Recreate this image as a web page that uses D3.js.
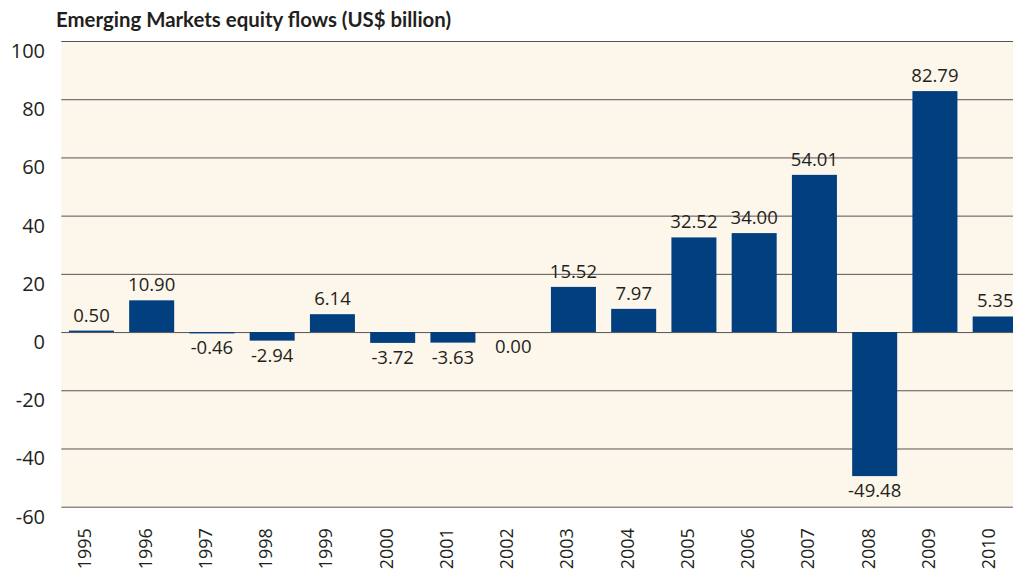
<!DOCTYPE html>
<html><head><meta charset="utf-8">
<script src="https://cdn.jsdelivr.net/npm/d3@7/dist/d3.min.js"></script>
<style>html,body{margin:0;padding:0;background:#fff;}svg{display:block;}</style>
</head><body>
<svg id="chart" width="1013" height="574"></svg>
<script>
const title = "Emerging Markets equity flows (US$ billion)";
const years = ["1995","1996","1997","1998","1999","2000","2001","2002","2003","2004","2005","2006","2007","2008","2009","2010"];
const flows = [0.50,10.90,-0.46,-2.94,6.14,-3.72,-3.63,0.00,15.52,7.97,32.52,34.00,54.01,-49.48,82.79,5.35];
const yTicks = [100,80,60,40,20,0,-20,-40,-60];

const svg = d3.select("#chart");
const x = d3.scaleBand().domain(years).range([61.3, 1025.3]).paddingInner(0.253).paddingOuter(0.1265);
const y = d3.scaleLinear().domain([-60,100]).range([506.7, 41]);
const font = "'Open Sans', sans-serif";
const ink = "#231f20";

svg.append("rect").attr("x", 61.3).attr("y", y(100)).attr("width", 1013-61.3).attr("height", y(-60)-y(100)).attr("fill", "#fdf6eb");

const yAxis = d3.axisLeft(y).tickValues(yTicks).tickSize(-(1030-61.3)).tickFormat(d => String(d));
const ga = svg.append("g").attr("transform", "translate(61.3,0)").call(yAxis);
ga.select(".domain").remove();
ga.selectAll(".tick line").attr("stroke", "#555").attr("stroke-width", 1);
ga.selectAll(".tick text").attr("x", -16.3).attr("dy", "0").attr("y", 16.5)
  .attr("font-family", font).attr("font-size", 20).attr("fill", ink);

svg.append("g").selectAll("rect").data(years).join("rect")
  .attr("x", d => x(d))
  .attr("width", x.bandwidth())
  .attr("y", (d,i) => y(Math.max(0, flows[i])))
  .attr("height", (d,i) => Math.abs(y(flows[i]) - y(0)))
  .attr("fill", "#013f7e");

svg.append("g").selectAll("text").data(years).join("text")
  .attr("x", d => x(d) + x.bandwidth()/2)
  .attr("y", (d,i) => flows[i] > 0 ? y(flows[i]) - 9 : y(flows[i]) + 21)
  .attr("text-anchor", "middle")
  .attr("font-family", font).attr("font-size", 18.5).attr("fill", ink)
  .text((d,i) => flows[i].toFixed(2));

const xAxis = d3.axisBottom(x).tickSize(0);
const gx = svg.append("g").attr("transform", `translate(0,${y(-60)})`).call(xAxis);
gx.select(".domain").remove();
gx.selectAll(".tick text")
  .attr("transform", "rotate(-90)")
  .attr("x", -21.5).attr("y", 0).attr("dy", "0")
  .attr("text-anchor", "end")
  .attr("font-family", font).attr("font-size", 18).attr("fill", ink);

svg.append("text").attr("x", 56).attr("y", 26.7)
  .attr("font-family", "Lato, sans-serif").attr("font-weight", "bold").attr("font-size", 20.4).attr("fill", ink)
  .text(title);
</script>
</body></html>
